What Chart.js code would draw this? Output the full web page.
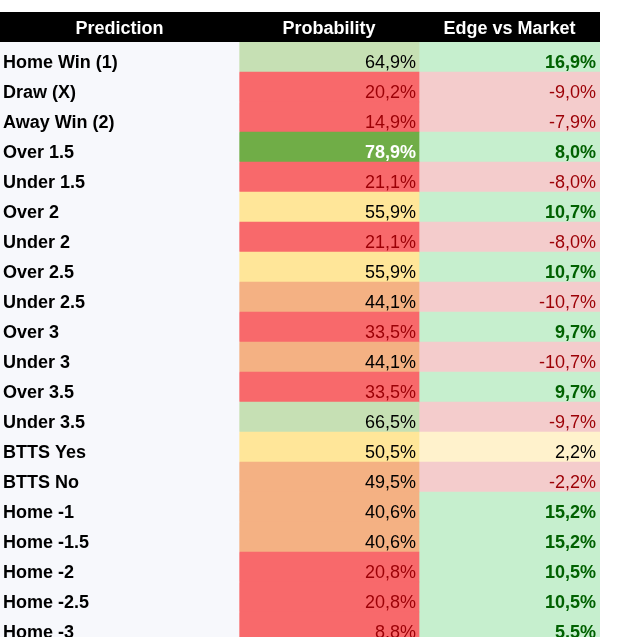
<!DOCTYPE html>
<html>
<head>
<meta charset="utf-8">
<script src="https://cdn.jsdelivr.net/npm/chart.js@4"></script>
<style>
  html, body { margin: 0; padding: 0; background: #fff; overflow: hidden; }
  #wrap { width: 617px; height: 642px; }
</style>
</head>
<body>
<div id="wrap"><canvas id="table" width="617" height="642"></canvas></div>
<script>
// Данные таблицы
const predictions = ['Home Win (1)', 'Draw (X)', 'Away Win (2)', 'Over 1.5', 'Under 1.5',
  'Over 2', 'Under 2', 'Over 2.5', 'Under 2.5', 'Over 3', 'Under 3', 'Over 3.5', 'Under 3.5',
  'BTTS Yes', 'BTTS No', 'Home -1', 'Home -1.5', 'Home -2', 'Home -2.5', 'Home -3'];
const probability = [64.9, 20.2, 14.9, 78.9, 21.1, 55.9, 21.1, 55.9, 44.1, 33.5, 44.1, 33.5, 66.5,
  50.5, 49.5, 40.6, 40.6, 20.8, 20.8, 8.8];
const edge = [16.9, -9.0, -7.9, 8.0, -8.0, 10.7, -8.0, 10.7, -10.7, 9.7, -10.7, 9.7, -9.7,
  2.2, -2.2, 15.2, 15.2, 10.5, 10.5, 5.5];
const headers = ['Prediction', 'Probability', 'Edge vs Market'];

// Границы колонок (в пикселях оси x)
const colEdges = [0, 239, 419, 600];
const FONT = '"Liberation Sans", Arial, sans-serif';

function fmt(v) {
  return v.toFixed(1).replace('.', ',') + '%';
}

// Цвета вероятности
function probStyle(v) {
  if (v >= 75) return { bg: '#70ad47', fg: '#ffffff', bold: true };
  if (v >= 60) return { bg: '#c6e0b4', fg: '#000000', bold: false };
  if (v >= 50) return { bg: '#ffe699', fg: '#000000', bold: false };
  if (v >= 40) return { bg: '#f4b183', fg: '#000000', bold: false };
  return { bg: '#f8696b', fg: '#9c0006', bold: false };
}
// Цвета преимущества
function edgeStyle(v) {
  if (v >= 5) return { bg: '#c6efce', fg: '#006100', bold: true };
  if (v >= 0) return { bg: '#fff2cc', fg: '#000000', bold: false };
  return { bg: '#f4cccc', fg: '#9c0006', bold: false };
}

const span = c => predictions.map(() => [colEdges[c], colEdges[c + 1]]);

// Шапка и тексты ячеек
const tablePlugin = {
  id: 'tableText',
  afterDatasetsDraw(chart) {
    const ctx = chart.ctx;
    const x = chart.scales.x;
    const top = chart.chartArea.top;
    ctx.save();
    // шапка
    ctx.fillStyle = '#000';
    ctx.fillRect(x.getPixelForValue(colEdges[0]), top - 30,
      x.getPixelForValue(colEdges[3]) - x.getPixelForValue(colEdges[0]), 30);
    ctx.fillStyle = '#fff';
    ctx.font = 'bold 18px ' + FONT;
    ctx.textAlign = 'center';
    ctx.textBaseline = 'alphabetic';
    headers.forEach((h, i) => {
      const cx = (x.getPixelForValue(colEdges[i]) + x.getPixelForValue(colEdges[i + 1])) / 2;
      ctx.fillText(h, cx, top - 8);
    });
    // ячейки
    chart.getDatasetMeta(0).data.forEach((el, i) => {
      const base = el.y + el.height / 2 - 4;
      ctx.textAlign = 'left';
      ctx.fillStyle = '#000';
      ctx.font = 'bold 18px ' + FONT;
      ctx.fillText(predictions[i], el.base + 3, base);

      const ps = probStyle(probability[i]);
      const pel = chart.getDatasetMeta(1).data[i];
      ctx.textAlign = 'right';
      ctx.fillStyle = ps.fg;
      ctx.font = (ps.bold ? 'bold ' : '') + '18px ' + FONT;
      ctx.fillText(fmt(probability[i]), pel.x - 3, base);

      const es = edgeStyle(edge[i]);
      const eel = chart.getDatasetMeta(2).data[i];
      ctx.fillStyle = es.fg;
      ctx.font = (es.bold ? 'bold ' : '') + '18px ' + FONT;
      ctx.fillText(fmt(edge[i]), eel.x - 4, base);
    });
    ctx.restore();
  }
};

new Chart(document.getElementById('table'), {
  type: 'bar',
  data: {
    labels: predictions,
    datasets: [
      { label: headers[0], data: span(0), backgroundColor: '#f7f8fc' },
      { label: headers[1], data: span(1), backgroundColor: probability.map(v => probStyle(v).bg) },
      { label: headers[2], data: span(2), backgroundColor: edge.map(v => edgeStyle(v).bg) }
    ]
  },
  options: {
    indexAxis: 'y',
    responsive: false,
    animation: false,
    layout: { padding: { top: 42, right: 17, left: 0, bottom: 0 } },
    datasets: {
      bar: { grouped: false, barPercentage: 1, categoryPercentage: 1, borderWidth: 0, borderSkipped: false }
    },
    scales: {
      x: { display: false, min: colEdges[0], max: colEdges[3] },
      y: { display: false }
    },
    plugins: {
      legend: { display: false },
      tooltip: { enabled: false }
    }
  },
  plugins: [tablePlugin]
});
</script>
</body>
</html>
